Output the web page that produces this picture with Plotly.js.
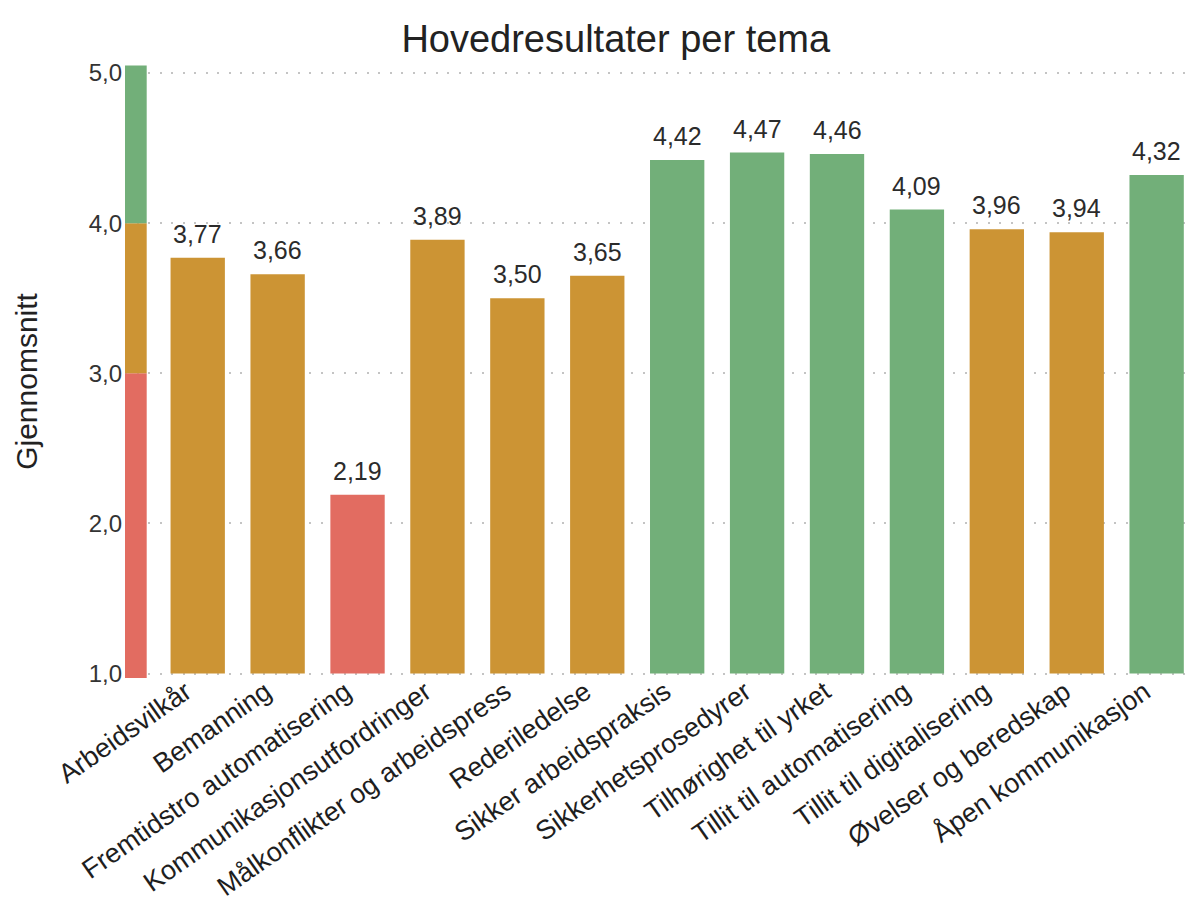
<!DOCTYPE html>
<html>
<head>
<meta charset="utf-8">
<script src="https://cdn.plot.ly/plotly-3.0.1.min.js"></script>
<style>html,body{margin:0;padding:0;background:#fff;}#chart{width:1198px;height:910px;}</style>
</head>
<body>
<div id="chart"></div>
<script>
// ---- data ----
const categories = [
  "Arbeidsvilkår", "Bemanning", "Fremtidstro automatisering",
  "Kommunikasjonsutfordringer", "Målkonflikter og arbeidspress",
  "Rederiledelse", "Sikker arbeidspraksis", "Sikkerhetsprosedyrer",
  "Tilhørighet til yrket", "Tillit til automatisering",
  "Tillit til digitalisering", "Øvelser og beredskap", "Åpen kommunikasjon"
];
const values = [3.77, 3.66, 2.19, 3.89, 3.50, 3.65, 4.42, 4.47, 4.46, 4.09, 3.96, 3.94, 4.32];
// colour scale strip: band edges (low, mid1, mid2, high)
const bandEdges = [0.97, 3.0, 4.0, 5.05];
const yTicks = [1, 2, 3, 4, 5];

// ---- styles ----
const RED = "#E26C61", ORANGE = "#CC9434", GREEN = "#72AF79";
const FONT = "Liberation Sans, Arial, sans-serif";
function colorFor(v) { return v < 3 ? RED : (v < 4 ? ORANGE : GREEN); }
const fmt = v => v.toFixed(2).replace(".", ",");
const xs = categories.map((c, i) => i);
const BASE = 1;

const bars = {
  type: "bar",
  x: xs,
  y: values.map(v => v - BASE),
  base: values.map(() => BASE),
  width: 0.68,
  marker: { color: values.map(colorFor), line: { width: 0 } },
  hoverinfo: "skip",
  showlegend: false
};

const stripX = -0.776;
const stripColors = [RED, ORANGE, GREEN];
const strip = stripColors.map((col, k) => ({
  type: "bar",
  x: [stripX],
  y: [bandEdges[k + 1] - bandEdges[k]],
  base: [bandEdges[k]],
  width: 0.275,
  marker: { color: col, line: { width: 0 } },
  hoverinfo: "skip",
  showlegend: false
}));

const valueLabels = values.map((v, i) => ({
  x: xs[i], y: v, xref: "x", yref: "y",
  text: fmt(v), showarrow: false,
  xanchor: "center", yanchor: "bottom", yshift: 8,
  font: { size: 25, color: "#2b2b2b", family: FONT }
}));

const yTitle = {
  xref: "paper", yref: "paper", x: -0.0916, y: 0.484,
  xanchor: "center", yanchor: "middle",
  text: "Gjennomsnitt", textangle: -90, showarrow: false,
  font: { size: 30, color: "#222", family: FONT }
};

const layout = {
  width: 1198, height: 910,
  separators: ", ",
  font: { family: FONT, color: "#2b2b2b" },
  paper_bgcolor: "#fff", plot_bgcolor: "#fff",
  margin: { l: 125, r: 3, t: 64, b: 232 },
  title: { text: "Hovedresultater per tema", font: { size: 38, color: "#222" }, x: 0.514, xanchor: "center", y: 0.972, yanchor: "top" },
  barmode: "overlay",
  xaxis: {
    range: [-0.91, 12.48],
    tickvals: xs, ticktext: categories,
    tickangle: -35,
    tickfont: { size: 27, color: "#1e1e1e" },
    ticklabelshift: -12,
    ticklabelstandoff: -8,
    showgrid: false, zeroline: false, showline: false, ticks: "",
    automargin: false
  },
  yaxis: {
    range: [0.97, 5.06],
    tickvals: yTicks,
    tickformat: ".1f",
    tickfont: { size: 24, color: "#333" },
    showgrid: true, gridcolor: "#c4c4c4", gridwidth: 2, griddash: "2px,9.5px",
    zeroline: false, showline: false, ticks: "",
    ticklabelstandoff: 2,
    automargin: false
  },
  annotations: [...valueLabels, yTitle]
};

Plotly.newPlot("chart", [...strip, bars], layout, { displayModeBar: false, staticPlot: true });
</script>
</body>
</html>
